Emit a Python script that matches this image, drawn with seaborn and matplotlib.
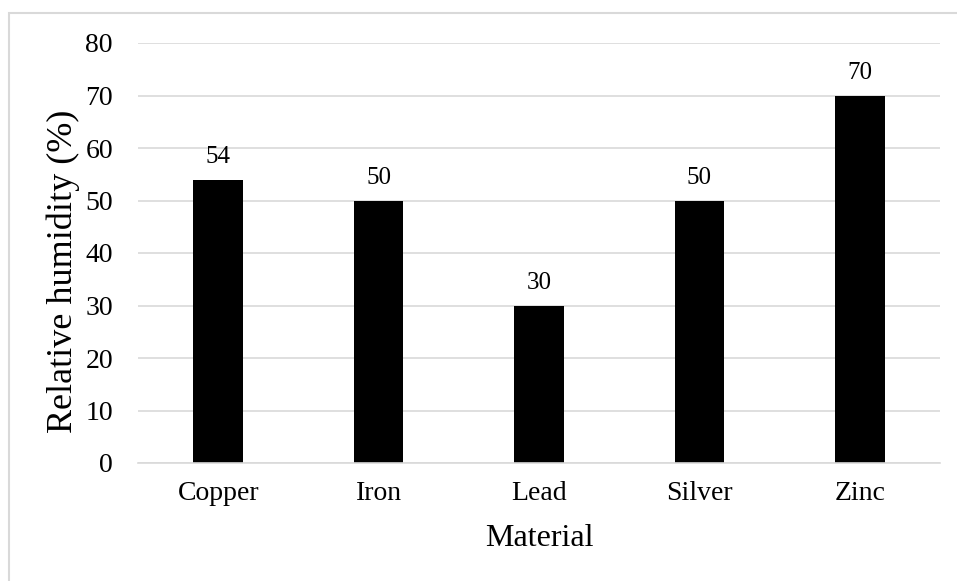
import matplotlib
matplotlib.use("Agg")
import matplotlib.pyplot as plt
import seaborn as sns
import pandas as pd
from matplotlib.patches import Rectangle

materials = ["Copper", "Iron", "Lead", "Silver", "Zinc"]
humidity = [54, 50, 30, 50, 70]
y_ticks = [0, 10, 20, 30, 40, 50, 60, 70, 80]

sns.set_theme(style="white")
plt.rcParams["font.family"] = ["Liberation Serif", "DejaVu Serif"]

df = pd.DataFrame({"Material": materials, "Relative humidity (%)": humidity})

W, H = 957, 581
fig = plt.figure(figsize=(W / 100, H / 100), dpi=100)
ax = fig.add_axes([138 / W, 1 - 463 / H, (940 - 138) / W, (463 - 43) / H])

sns.barplot(data=df, x="Material", y="Relative humidity (%)", color="black",
            saturation=1, width=0.31, linewidth=0, ax=ax)

ax.set_ylim(0, 80)
ax.set_xlim(-0.5, len(materials) - 0.5)
ax.set_yticks(y_ticks)
ax.yaxis.grid(True, color="#d9d9d9", linewidth=1.2)
ax.set_axisbelow(True)
for side in ["left", "right", "top"]:
    ax.spines[side].set_visible(False)
ax.spines["bottom"].set_color("#d9d9d9")
ax.spines["bottom"].set_linewidth(1.2)

ax.tick_params(axis="y", length=0, pad=18, labelsize=20, colors="black")
ax.tick_params(axis="x", length=0, pad=13, labelsize=20, colors="black")

ax.set_xlabel("Material", fontsize=23, color="black", va="center")
ax.set_ylabel("Relative humidity (%)", fontsize=26, color="black", va="center")
ax.xaxis.set_label_coords(0.5, -0.179)
ax.yaxis.set_label_coords(-0.093, 0.456)

for container in ax.containers:
    ax.bar_label(container, labels=[str(v) for v in humidity], padding=8,
                 fontsize=18, color="black")

# light frame around the whole chart area
fig.patches.append(Rectangle((9 / W, -0.1), 1.0, 1.1 - 13 / H, transform=fig.transFigure,
                             fill=False, edgecolor="#d9d9d9", linewidth=1.5))

fig.savefig("out.png", dpi=100)
